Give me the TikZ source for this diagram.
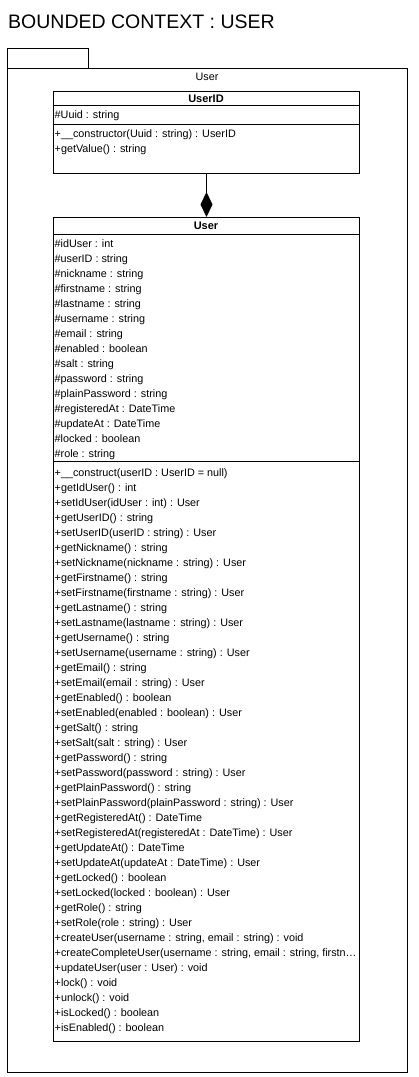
\documentclass[tikz,border=0pt]{standalone}
\usepackage{fontspec}
\setmainfont{Liberation Sans}
\usetikzlibrary{arrows.meta,positioning}
\tikzset{
  packagebox/.style={draw=black,line width=1pt,anchor=north west,inner sep=0pt},
  classbox/.style={draw=black,line width=1pt,anchor=north west,inner sep=0pt,
    minimum width=306pt},
  classname/.style={font=\fontsize{11}{13}\selectfont\bfseries,anchor=base,inner sep=0pt},
  memberline/.style={font=\fontsize{10.8}{13}\selectfont,anchor=base west,inner sep=0pt},
  compositionarrow/.style={-{Diamond[length=25pt,width=12pt]},line width=1pt}
}

\begin{document}
\begin{tikzpicture}[x=1pt,y=-1pt]
  \useasboundingbox (0,0) rectangle (418,1077);
  \node[font=\fontsize{19.5}{22}\selectfont,anchor=base west,inner sep=0pt] (title) at (8,28) {BOUNDED CONTEXT : USER};
  % package
  \node[packagebox,minimum width=81pt,minimum height=20pt] (tab) at (7,48) {};
  \node[packagebox,minimum width=400pt,minimum height=1004pt] (pkg) at (7,68) {};
  \node[memberline,anchor=base] (pkgname) at (207,80) {User};
  % class UserID
  \node[classbox,minimum height=82pt] (userid) at (53,91) {};
  \draw[line width=1pt] ([yshift=-14pt]userid.north west) -- ([yshift=-14pt]userid.north east);
  \draw[line width=1pt] ([yshift=-33pt]userid.north west) -- ([yshift=-33pt]userid.north east);
  \node[classname] (useridname) at (206,102) {UserID};
  \node[memberline] (uuid) at (54.5,118.5) {\#Uuid : string};
  \node[memberline] (ctor) at (54.5,137) {+\_\_constructor(Uuid : string) : UserID};
  \node[memberline] (getvalue) at (54.5,152) {+getValue() : string};
  % class User
  \node[classbox,minimum height=824pt] (user) at (53,217) {};
  \draw[line width=1pt] ([yshift=-17pt]user.north west) -- ([yshift=-17pt]user.north east);
  \draw[line width=1pt] ([yshift=-244pt]user.north west) -- ([yshift=-244pt]user.north east);
  \node[classname] (username) at (206,229.5) {User};
  \foreach \txt [count=\i from 0] in {\#idUser : int, \#userID : string,
      \#nickname : string, \#firstname : string, \#lastname : string,
      \#username : string, \#email : string, \#enabled : boolean,
      \#salt : string, \#password : string, \#plainPassword : string,
      \#registeredAt : DateTime, \#updateAt : DateTime,
      \#locked : boolean, \#role : string}
    \node[memberline] (attr\i) at (54.5,247+15*\i) {\txt};
  \foreach \txt [count=\i from 0] in {+\_\_construct(userID : UserID = null),
      +getIdUser() : int, +setIdUser(idUser : int) : User,
      +getUserID() : string, +setUserID(userID : string) : User,
      +getNickname() : string, +setNickname(nickname : string) : User,
      +getFirstname() : string, +setFirstname(firstname : string) : User,
      +getLastname() : string, +setLastname(lastname : string) : User,
      +getUsername() : string, +setUsername(username : string) : User,
      +getEmail() : string, +setEmail(email : string) : User,
      +getEnabled() : boolean, +setEnabled(enabled : boolean) : User,
      +getSalt() : string, +setSalt(salt : string) : User,
      +getPassword() : string, +setPassword(password : string) : User,
      +getPlainPassword() : string,
      +setPlainPassword(plainPassword : string) : User,
      +getRegisteredAt() : DateTime,
      +setRegisteredAt(registeredAt : DateTime) : User,
      +getUpdateAt() : DateTime, +setUpdateAt(updateAt : DateTime) : User,
      +getLocked() : boolean, +setLocked(locked : boolean) : User,
      +getRole() : string, +setRole(role : string) : User,
      {+createUser(username : string, email : string) : void},
      {+createCompleteUser(username : string, email : string, firstn\ldots},
      +updateUser(user : User) : void, +lock() : void, +unlock() : void,
      +isLocked() : boolean, +isEnabled() : boolean}
    \node[memberline] (meth\i) at (54.5,476+15*\i) {\txt};
  % composition
  \draw[compositionarrow] (userid.south) -- (user.north);
\end{tikzpicture}
\end{document}
